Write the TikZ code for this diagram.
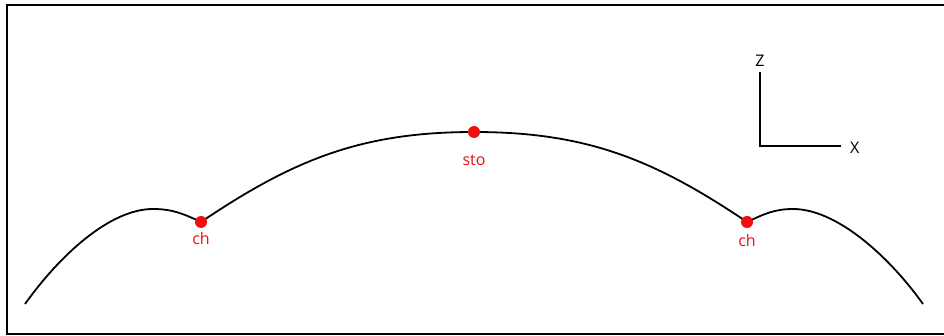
\documentclass[tikz,border=0pt]{standalone}
\usepackage{fontspec}
\setmainfont{Open Sans}
\usetikzlibrary{positioning}
\definecolor{ptred}{RGB}{240,15,15}
\begin{document}
\begin{tikzpicture}[x=1pt, y=1pt,
  surface/.style={line width=1.8pt, black},
  axis/.style={line width=2.6pt, black, line cap=rect},
  ptdot/.style={circle, fill=ptred, inner sep=0pt, minimum size=12pt},
  ptlabel/.style={text=ptred, font=\fontsize{16}{18}\selectfont, inner sep=1pt},
  axlabel/.style={font=\fontsize{16}{18}\selectfont, inner sep=1pt}]
  \useasboundingbox (0,0) rectangle (944,-336);
  \clip (0,0) rectangle (944,-336);
  % frame (right side runs off the picture)
  \draw[line width=1.8pt] (7,-5) rectangle (960,-334);
  % surface profile
  \coordinate (lend) at (25,-304);
  \coordinate (lpeak) at (153,-209);
  \coordinate (chl) at (201,-222);
  \coordinate (sto) at (474,-132);
  \coordinate (chr) at (747,-222);
  \coordinate (rpeak) at (793,-209);
  \coordinate (rend) at (923,-304);
  \draw[surface] (lend) .. controls (60,-255) and (110,-209) .. (lpeak)
    to[out=0, in=155] (chl);
  \draw[surface] (chl) to[out=34, in=180] (sto) to[out=0, in=146] (chr);
  \draw[surface] (chr) to[out=25, in=180] (rpeak)
    .. controls (836,-209) and (888,-255) .. (rend);
  % points on the surface
  \node[ptdot] (chldot) at (chl) {};
  \node[ptdot] (stodot) at (sto) {};
  \node[ptdot] (chrdot) at (chr) {};
  \node[ptlabel, below=3pt of chldot] (chllab) {ch};
  \node[ptlabel, below=16pt of stodot] (stolab) {sto};
  \node[ptlabel, below=5pt of chrdot] (chrlab) {ch};
  % axes
  \coordinate (orig) at (760,-146);
  \coordinate (ztop) at (760,-73);
  \coordinate (xend) at (840,-146);
  \draw[axis] (ztop) -- (orig) -- (xend);
  \node[axlabel, above=5pt of ztop] (zlab) {Z};
  \node[axlabel, right=9pt of xend, yshift=-2pt] (xlab) {X};
\end{tikzpicture}
\end{document}
